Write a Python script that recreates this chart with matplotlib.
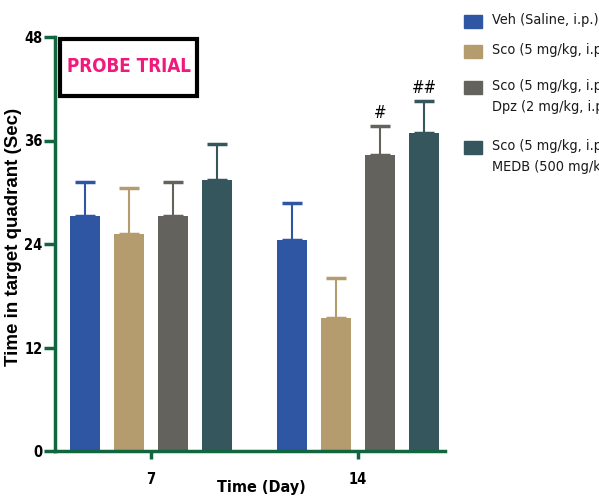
import numpy as np
import matplotlib.pyplot as plt
from matplotlib.patches import Rectangle

plt.rcParams["font.family"] = ["DejaVu Sans"]
plt.rcParams["font.stretch"] = "condensed"

days = ["7", "14"]
groups = ["Veh (Saline, i.p.)",
          "Sco (5 mg/kg, i.p.)",
          "Sco (5 mg/kg, i.p.) +\nDpz (2 mg/kg, i.p.)",
          "Sco (5 mg/kg, i.p.) +\nMEDB (500 mg/kg)"]
colors = ["#2e56a3", "#b59c6f", "#63625c", "#34565c"]

means = [[27.2, 24.5],
         [25.2, 15.4],
         [27.2, 34.3],
         [31.4, 36.9]]
errs = [[4.0, 4.3],
        [5.3, 4.7],
        [4.0, 3.4],
        [4.2, 3.7]]
marks = [["", ""], ["", ""], ["", "#"], ["", "##"]]

axis_green = "#12663f"
W, H = 599, 496

fig = plt.figure(figsize=(W / 100, H / 100), dpi=100)
ax = fig.add_axes([55 / W, 45 / H, 390 / W, 414 / H])

x = np.arange(len(days))
step = 0.2126
width = 0.145
for i in range(len(groups)):
    pos = x + (i - 1.5) * step
    ax.bar(pos, means[i], width, color=colors[i], label=groups[i], zorder=2)
    ax.errorbar(pos, means[i], yerr=[np.zeros(len(days)), errs[i]], fmt="none",
                ecolor=colors[i], elinewidth=1.5, capsize=7, capthick=2.5, zorder=1)
    for xp, m, e, s in zip(pos, means[i], errs[i], marks[i]):
        if s:
            ax.text(xp, m + e + 0.4, s, ha="center", va="bottom", fontsize=12,
                    color="black")

ax.set_xlim(-0.464, 1.42)
ax.set_ylim(0, 48)
ax.set_yticks([0, 12, 24, 36, 48])
ax.set_xticks(x)
ax.set_xticklabels(days)
for side in ["top", "right"]:
    ax.spines[side].set_visible(False)
for side in ["left", "bottom"]:
    ax.spines[side].set_color(axis_green)
    ax.spines[side].set_linewidth(2.5)
ax.tick_params(axis="both", colors=axis_green, width=2.5, length=6)
ax.tick_params(axis="y", length=8, pad=1)
ax.tick_params(axis="x", pad=9)
for lab in ax.get_xticklabels() + ax.get_yticklabels():
    lab.set_color("black")
    lab.set_fontweight("bold")
    lab.set_fontsize(10.5)

ax.set_xlabel("Time (Day)", fontsize=11.5, fontweight="bold")
ax.xaxis.set_label_coords(0.53, -0.087)
ax.xaxis.label.set_va("center")
ax.set_ylabel("Time in target quadrant (Sec)", fontsize=13.5, fontweight="bold",
              family=["Liberation Sans", "DejaVu Sans"], fontstretch="normal")
ax.yaxis.set_label_coords(-41 / 390, 0.518)
ax.yaxis.label.set_va("center")

# boxed title inside the plot area
fig.patches.append(Rectangle((60 / W, 1 - 96 / H), 137 / W, 57 / H,
                             transform=fig.transFigure, fill=False,
                             edgecolor="black", linewidth=3))
fig.text(129 / W, 1 - 67 / H, "PROBE TRIAL", ha="center", va="center",
         fontsize=13.5, fontweight="bold", color="#f0197d")

# legend to the right; swatch sits beside the first line of each entry
legend_rows = [22, 52, 88, 148]
for name, col, y in zip(groups, colors, legend_rows):
    fig.patches.append(Rectangle((464 / W, 1 - (y + 6) / H), 18 / W, 13 / H,
                                 transform=fig.transFigure, color=col))
    fig.text(492 / W, 1 - (y - 9) / H, name, ha="left", va="top",
             fontsize=10.4, linespacing=1.6, color="#1a1a1a")

fig.savefig("out.png", dpi=100)
